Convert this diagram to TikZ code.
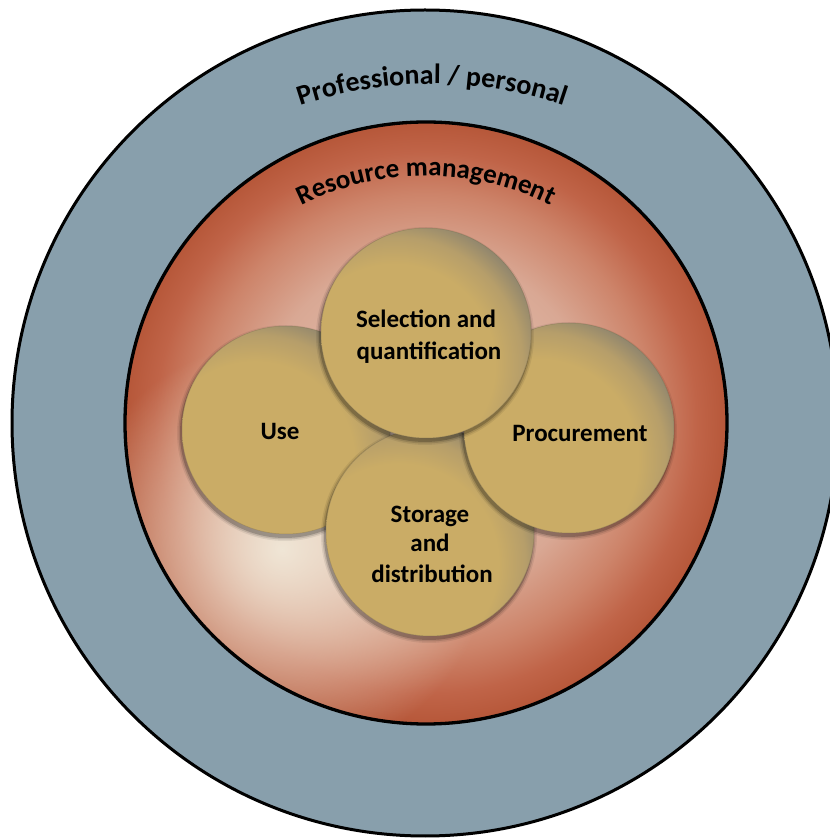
\documentclass[tikz,border=0pt]{standalone}
\usepackage{fontspec}
\setmainfont{Carlito}
\usetikzlibrary{decorations.text,fadings}
\definecolor{ringblue}{RGB}{136,159,172}
\definecolor{rcream}{RGB}{240,230,214}
\definecolor{rcenter}{RGB}{230,205,190}
\definecolor{rpink}{RGB}{217,168,148}
\definecolor{rsalmon}{RGB}{205,132,106}
\definecolor{rred}{RGB}{192,100,72}
\definecolor{rdark}{RGB}{182,87,57}
\definecolor{gold1}{RGB}{202,172,102}
\definecolor{gold2}{RGB}{182,158,106}
\definecolor{gold3}{RGB}{140,131,110}
\pgfdeclareradialshading{redglow}{\pgfpoint{0bp}{0bp}}{color(0bp)=(rcenter); color(14bp)=(rpink); color(19bp)=(rsalmon); color(22.5bp)=(rred); color(25bp)=(rdark); color(50bp)=(rdark)}
\pgfdeclareradialshading{goldrad}{\pgfpoint{0bp}{0bp}}{color(0bp)=(gold1); color(16.5bp)=(gold1); color(21bp)=(gold2); color(25bp)=(gold3); color(50bp)=(gold3)}
\tikzfading[name=glowfade, inner color=transparent!0, outer color=transparent!100]
\tikzset{
  lbl/.style={font=\fontsize{25}{30.5}\selectfont\bfseries, inner sep=0pt, anchor=base, text=black},
  ringline/.style={draw=black, line width=3pt},
}
\newcommand\GoldBall[4]{%
  \foreach \k/\o in {4/0.07,2.5/0.12,1/0.2}{\fill[black,opacity=\o] (#2-1,#3-3) circle[radius={#4pt+\k pt}];}
  \node[circle, inner sep=0pt, minimum size={2*#4pt}, fill=gold1,
    path picture={\shade[shading=goldrad] ([xshift={-0.3*#4pt}, yshift={-0.3*#4pt}]path picture bounding box.center) circle[radius={1.45*#4pt}];},
    draw=gold3!70!black, draw opacity=0.35, line width=0.5pt] (#1) at (#2,#3) {};
}
\begin{document}
\begin{tikzpicture}[x=1pt,y=1pt]
\useasboundingbox (0,0) rectangle (830,839);
\clip (0,0) rectangle (830,839);
\fill[white] (0,0) rectangle (830,839);
% outer ring
\path[ringline, fill=ringblue] (425,416) circle[radius=413pt];
% resource management disc
\path[shade, shading=redglow] (426,416) circle[radius=301pt];
\begin{scope}
  \clip (426,416) circle[radius=301pt];
  \fill[rcream, path fading=glowfade] (282,290) circle[radius=210pt];
\end{scope}
\draw[line width=3.3pt] (426,416) circle[radius=301pt];
% curved titles
\path[decorate, decoration={text along path, text align=center,
  text={|\fontsize{28}{30}\selectfont\bfseries|Professional / personal}}]
  ([shift={(128:410pt)}]432,345) arc[start angle=128, end angle=52, radius=410pt];
\path[decorate, decoration={text along path, text align=center,
  text={|\fontsize{27}{30}\selectfont\bfseries|Resource management}}]
  ([shift={(133:280pt)}]426,383) arc[start angle=133, end angle=47, radius=280pt];
% four circles
\GoldBall{use}{286}{409}{104}
\GoldBall{storage}{430}{307}{104}
\GoldBall{proc}{569}{411}{105}
\GoldBall{sel}{426}{506}{105}
% labels
\node[lbl] (tuse) at (280,399) {Use};
\node[lbl] (tproc) at (580,397) {Procurement};
\node[lbl] (tsel1) at (426,511) {Selection and};
\node[lbl] (tsel2) at (429,479) {quantification};
\node[lbl] (tsto1) at (430,316) {Storage};
\node[lbl] (tsto2) at (430,287) {and};
\node[lbl] (tsto3) at (432,256) {distribution};
\end{tikzpicture}
\end{document}
